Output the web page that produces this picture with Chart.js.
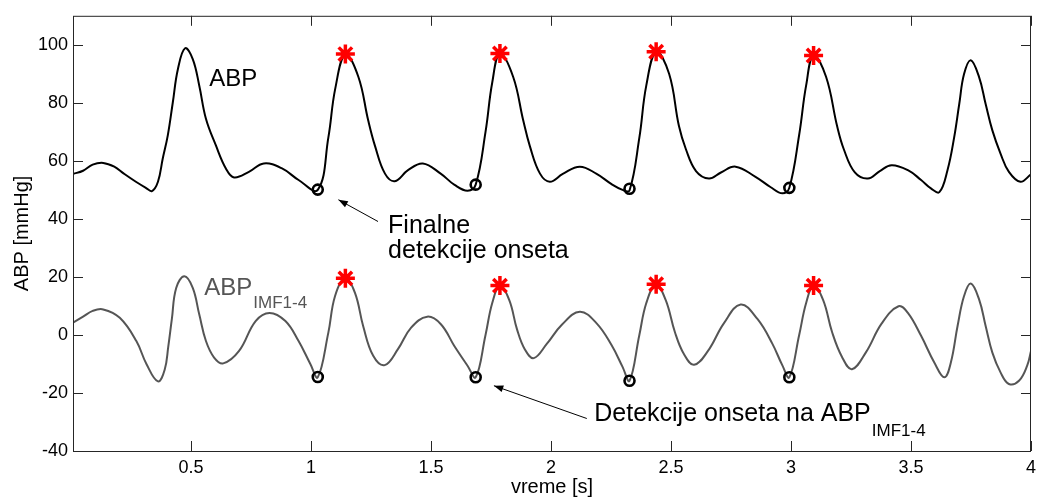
<!DOCTYPE html>
<html>
<head>
<meta charset="utf-8">
<script src="https://cdn.jsdelivr.net/npm/chart.js@4.4.1/dist/chart.umd.min.js"></script>
<style>
  html, body { margin: 0; padding: 0; background: #fff; }
  #wrap { width: 1044px; height: 497px; }
</style>
</head>
<body>
<div id="wrap"><canvas id="abpChart" width="1044" height="497"></canvas></div>
<script>
// time [s] and ABP [mmHg]
const abpTime = [0.008, 0.05, 0.09, 0.134, 0.18, 0.22, 0.27, 0.31, 0.337, 0.362, 0.382, 0.403, 0.424, 0.445, 0.475,
  0.507, 0.534, 0.562, 0.603, 0.645, 0.679, 0.741, 0.803, 0.879, 0.948, 1.028,
  1.072, 1.101, 1.143, 1.197, 1.238, 1.267, 1.308, 1.349, 1.404, 1.466, 1.540, 1.598, 1.652, 1.686,
  1.727, 1.755, 1.787, 1.842, 1.884, 1.912, 1.954, 1.995, 2.049, 2.120, 2.190, 2.252, 2.298, 2.327,
  2.368, 2.397, 2.438, 2.492, 2.533, 2.562, 2.604, 2.658, 2.708, 2.769, 2.852, 2.914, 2.964, 2.993,
  3.034, 3.063, 3.094, 3.146, 3.192, 3.220, 3.266, 3.320, 3.370, 3.419, 3.487, 3.542, 3.583, 3.618,
  3.652, 3.680, 3.701, 3.721, 3.749, 3.784, 3.811, 3.839, 3.873, 3.908, 3.956, 4.0];
const abpValues = [55.5, 56.6, 58.7, 59.3, 58.0, 55.6, 52.8, 50.8, 49.6, 52.8, 60.8, 68.8, 80.2, 91.6, 98.8,
  95.1, 86.0, 74.5, 65.4, 57.4, 54.3, 56.2, 59.1, 57.4, 53.4, 50.0,
  68, 85, 96.7, 89, 74, 65, 55.6, 53, 56.8, 59.1, 55.6, 51.7, 49.7, 51.8,
  70, 87, 97, 89, 74, 65, 55.6, 52.8, 55.5, 58, 55.5, 52, 50, 49.8,
  68, 86, 97.6, 90, 72, 64, 56.5, 53.9, 56, 58, 54.5, 51, 48.8, 50.7,
  69, 86, 96.4, 89, 72, 64, 56, 53.9, 56.5, 58.5, 56.8, 53.4, 50.5, 49.2,
  56.8, 68.2, 79.6, 89.9, 94.7, 88.8, 79.6, 70.5, 62.5, 56.2, 52.8, 55.4];

// ABP IMF1-4
const imfTime = [0.008, 0.05, 0.09, 0.134, 0.203, 0.272, 0.314, 0.362, 0.39, 0.405, 0.42, 0.438, 0.472, 0.507, 0.534,
  0.562, 0.596, 0.634, 0.700, 0.769, 0.827, 0.893, 0.948, 0.997, 1.028,
  1.072, 1.100, 1.142, 1.183, 1.217, 1.259, 1.307, 1.362, 1.417, 1.484, 1.541, 1.597, 1.652, 1.686,
  1.727, 1.755, 1.787, 1.826, 1.858, 1.891, 1.928, 1.983, 2.045, 2.120, 2.190, 2.252, 2.298, 2.327,
  2.368, 2.397, 2.437, 2.478, 2.516, 2.553, 2.596, 2.654, 2.720, 2.790, 2.860, 2.922, 2.964, 2.993,
  3.034, 3.063, 3.094, 3.134, 3.171, 3.212, 3.254, 3.312, 3.378, 3.448, 3.487, 3.542, 3.597, 3.639,
  3.666, 3.694, 3.721, 3.749, 3.784, 3.811, 3.839, 3.873, 3.908, 3.950, 3.984, 4.0];
const imfValues = [4.2, 6.3, 8.3, 8.8, 5.9, -2.1, -10, -16, -12, -4, 5.5, 16.2, 20.2, 16.2, 7.1,
  -2.1, -7.8, -9.8, -5.5, 4.8, 7.6, 4.8, -2.1, -10, -14.6,
  0.8, 13.4, 19.6, 14.5, 3.1, -7.2, -10.4, -4.9, 2.5, 6.3, 3.7, -3.8, -10.6, -14.6,
  0, 11, 17, 12, 2, -5, -8, -3, 3.5, 8, 4, -3.5, -11, -15.8,
  0, 11, 17.5, 12, 1, -6.5, -10.3, -5.5, 4, 10.5, 5.5, -3, -10.5, -14.6,
  0, 11, 17, 12, 1, -7.5, -11.8, -6, 4, 9.9, 7.6, -0.3, -9.5, -14.6,
  -9.5, 3.1, 13.4, 17.7, 12.2, 3.1, -6.1, -12.9, -16.9, -15.8, -10.6, -5.5];

// detections
const onsetTimes = [1.028, 1.686, 2.327, 2.993];
const onsetAbp = [50.1, 51.8, 50.4, 50.7];
const onsetImf = [-14.5, -14.6, -15.8, -14.6];
const peakTimes = [1.143, 1.787, 2.438, 3.094];
const peakAbp = [96.8, 97.0, 97.6, 96.3];
const peakImf = [19.5, 17.0, 17.5, 17.0];

const xTicks = [0.5, 1, 1.5, 2, 2.5, 3, 3.5, 4];
const yTicks = [-40, -20, 0, 20, 40, 60, 80, 100];

const toXY = (xs, ys) => xs.map((x, i) => ({ x: x, y: ys[i] }));
const FONT = 'Liberation Sans, Arial, sans-serif';

// MATLAB-like box with inward ticks, text labels and arrows
const figureExtras = {
  id: 'figureExtras',
  afterDatasetsDraw(chart) {
    const c = chart.ctx;
    const a = chart.chartArea;
    const xs = chart.scales.x, ys = chart.scales.y;
    c.save();
    c.strokeStyle = '#262626';
    c.lineWidth = 1;
    c.strokeRect(a.left + 0.5, a.top + 0.5, a.right - a.left - 1, a.bottom - a.top);
    c.beginPath();
    xTicks.forEach(v => {
      const px = Math.round(xs.getPixelForValue(v)) + 0.5;
      c.moveTo(px, a.bottom); c.lineTo(px, a.bottom - 10);
      c.moveTo(px, a.top); c.lineTo(px, a.top + 10);
    });
    yTicks.forEach(v => {
      const py = Math.round(ys.getPixelForValue(v)) + 0.5;
      c.moveTo(a.left, py); c.lineTo(a.left + 10, py);
      c.moveTo(a.right, py); c.lineTo(a.right - 10, py);
    });
    c.stroke();

    const P = (x, y) => [xs.getPixelForValue(x), ys.getPixelForValue(y)];
    const sub = (main, s, x, y, color, big, small, drop) => {
      const [px, py] = P(x, y);
      c.fillStyle = color;
      c.font = big + 'px ' + FONT;
      c.textBaseline = 'alphabetic';
      c.textAlign = 'left';
      c.fillText(main, px, py);
      if (s) {
        const w = c.measureText(main).width;
        c.font = small + 'px ' + FONT;
        c.fillText(s, px + w + 1, py + drop);
      }
    };
    sub('ABP', '', 0.576, 85.7, '#000', 24);
    sub('ABP', 'IMF1-4', 0.555, 13.7, '#555', 24, 17, 13);
    sub('Finalne', '', 1.321, 35.1, '#000', 25);
    sub('detekcije onseta', '', 1.321, 26.4, '#000', 25);
    sub('Detekcije onseta na ABP', 'IMF1-4', 2.18, -29.8, '#000', 25, 17, 15);

    const arrow = (x1, y1, x2, y2) => {
      const [ax, ay] = P(x1, y1);
      const [bx, by] = P(x2, y2);
      const ang = Math.atan2(by - ay, bx - ax);
      c.strokeStyle = '#000';
      c.fillStyle = '#000';
      c.lineWidth = 1;
      c.beginPath(); c.moveTo(ax, ay); c.lineTo(bx, by); c.stroke();
      c.beginPath();
      c.moveTo(bx, by);
      c.lineTo(bx - 10 * Math.cos(ang - 0.35), by - 10 * Math.sin(ang - 0.35));
      c.lineTo(bx - 10 * Math.cos(ang + 0.35), by - 10 * Math.sin(ang + 0.35));
      c.closePath(); c.fill();
    };
    arrow(1.279, 39.1, 1.114, 46.6);
    arrow(2.149, -28.8, 1.762, -17.5);
    c.restore();
  }
};

new Chart(document.getElementById('abpChart'), {
  type: 'line',
  data: {
    datasets: [
      { data: toXY(onsetTimes, onsetAbp), showLine: false, pointStyle: 'circle', pointRadius: 5,
        borderColor: '#000', backgroundColor: 'rgba(0,0,0,0)', borderWidth: 2.6, order: 1 },
      { data: toXY(onsetTimes, onsetImf), showLine: false, pointStyle: 'circle', pointRadius: 5,
        borderColor: '#000', backgroundColor: 'rgba(0,0,0,0)', borderWidth: 2.6, order: 1 },
      { data: toXY(peakTimes, peakAbp), showLine: false, pointStyle: 'star', pointRadius: 9.5,
        borderColor: '#ff0000', backgroundColor: '#ff0000', borderWidth: 3.5, order: 1 },
      { data: toXY(peakTimes, peakImf), showLine: false, pointStyle: 'star', pointRadius: 9.5,
        borderColor: '#ff0000', backgroundColor: '#ff0000', borderWidth: 3.5, order: 1 },
      { data: toXY(abpTime, abpValues), borderColor: '#000', borderWidth: 2, pointRadius: 0,
        tension: 0.4, order: 2 },
      { data: toXY(imfTime, imfValues), borderColor: '#555', borderWidth: 2, pointRadius: 0,
        tension: 0.4, order: 2 }
    ]
  },
  options: {
    responsive: false,
    animation: false,
    layout: { padding: { top: 13, right: 5, left: 0, bottom: 0 } },
    plugins: { legend: { display: false }, tooltip: { enabled: false } },
    scales: {
      x: {
        type: 'linear', min: 0.008, max: 4,
        grid: { display: false, drawTicks: false }, border: { display: false },
        afterBuildTicks: s => { s.ticks = xTicks.map(v => ({ value: v })); },
        afterFit: s => { s.height = 46; },
        ticks: { padding: 6, color: '#000', font: { family: FONT, size: 18 }, maxRotation: 0,
          callback: v => String(v) },
        title: { display: true, text: 'vreme [s]', color: '#000', font: { family: FONT, size: 20, lineHeight: 1 },
          padding: { top: 0, bottom: 0 } }
      },
      y: {
        type: 'linear', min: -40, max: 110,
        grid: { display: false, drawTicks: false }, border: { display: false },
        afterBuildTicks: s => { s.ticks = yTicks.map(v => ({ value: v })); },
        afterFit: s => { s.width = 73; },
        ticks: { padding: 5, color: '#000', font: { family: FONT, size: 18 }, callback: v => String(v) },
        title: { display: true, text: 'ABP [mmHg]', color: '#000', font: { family: FONT, size: 20 },
          padding: { top: 10, bottom: 0 } }
      }
    }
  },
  plugins: [figureExtras]
});
</script>
</body>
</html>
